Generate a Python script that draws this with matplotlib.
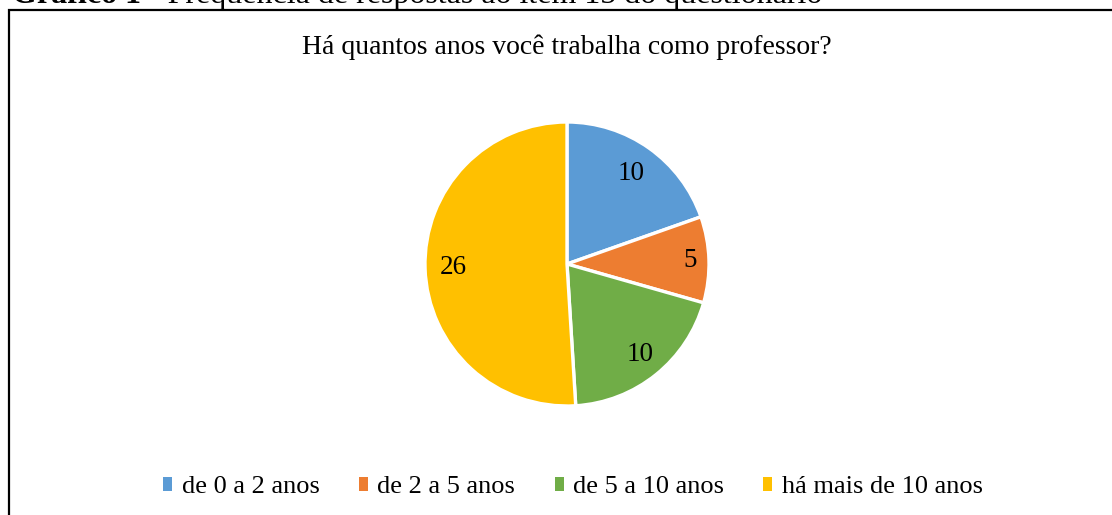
import numpy as np
import matplotlib.pyplot as plt
from matplotlib.patches import Rectangle

# dados
categorias = ['de 0 a 2 anos', 'de 2 a 5 anos', 'de 5 a 10 anos', 'há mais de 10 anos']
respostas = [10, 5, 10, 26]
cores = ['#5B9BD5', '#ED7D31', '#70AD47', '#FFC000']

titulo = 'Há quantos anos você trabalha como professor?'
legenda_fig = 'Gráfico 1'
texto_fig = ' - Frequência de respostas ao item 15 do questionário'

plt.rcParams['font.family'] = ['Liberation Serif', 'DejaVu Serif']

W, H = 1112, 515
fig = plt.figure(figsize=(W / 100, H / 100), dpi=100)

# moldura do gráfico (esquerda em x=9, topo em y=10)
fig.patches.append(Rectangle((9 / W, -0.05), 1.1, 1 - 10 / H + 0.05,
                             transform=fig.transFigure, fill=False,
                             edgecolor='black', linewidth=1.6))

# legenda da figura, cortada no topo
t1 = fig.text(12 / W, 1 - 3 / H, legenda_fig, fontsize=23, fontweight='bold',
              va='baseline', ha='left')
fig.canvas.draw()
bb = t1.get_window_extent()
fig.text(bb.x1 / W, 1 - 3 / H, texto_fig, fontsize=23, va='baseline', ha='left')

fig.text(567 / W, 1 - 47 / H, titulo, fontsize=20, ha='center', va='center')

# pizza: centro (567, 264), raio 142 px
cx, cy, r = 567, 264, 142
ax = fig.add_axes([(cx - r) / W, (H - cy - r) / H, 2 * r / W, 2 * r / H])
wedges, texts = ax.pie(respostas, colors=cores, startangle=90, counterclock=False,
                       labels=[str(v) for v in respostas], labeldistance=0.8,
                       wedgeprops=dict(edgecolor='white', linewidth=2.4),
                       textprops=dict(fontsize=19.5, ha='center', va='center'))
# distâncias dos rótulos (ajuste fino, como no Excel)
dists = [0.78, 0.87, 0.82, 0.80]
for w, t, d in zip(wedges, texts, dists):
    ang = np.deg2rad((w.theta1 + w.theta2) / 2)
    t.set_position((d * np.cos(ang), d * np.sin(ang)))
ax.set_xlim(-1.0, 1.0)
ax.set_ylim(-1.0, 1.0)
ax.set_aspect('equal')
ax.axis('off')

fig.legend(wedges, categorias, loc='center', bbox_to_anchor=(573 / W, 1 - 487 / H),
           ncol=4, frameon=False, fontsize=19, handlelength=0.34, handleheight=0.45,
           handletextpad=0.35, columnspacing=1.5)
for h in fig.legends[0].legend_handles:
    h.set_linewidth(0)

fig.savefig('out.png', dpi=100)
